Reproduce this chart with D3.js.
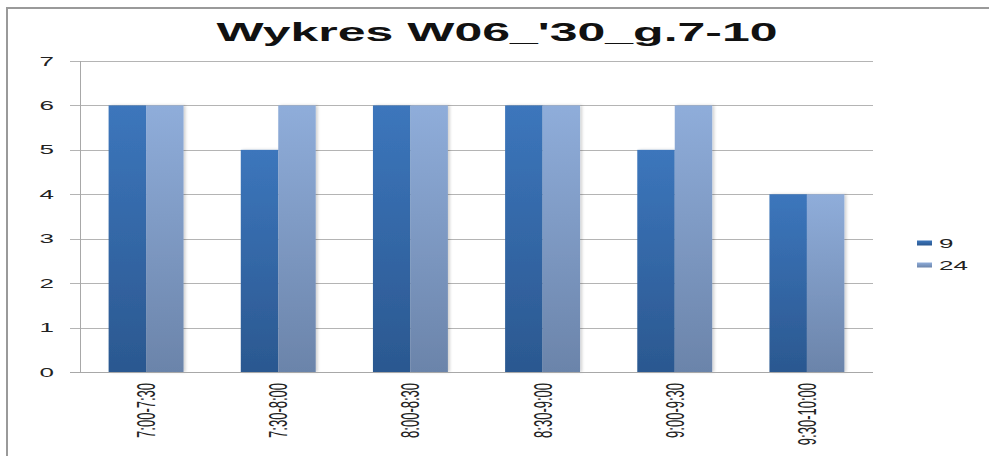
<!DOCTYPE html>
<html>
<head>
<meta charset="utf-8">
<script src="https://cdn.jsdelivr.net/npm/d3@7"></script>
<style>
  body { margin: 0; background: #fff; }
  svg text { font-family: "Liberation Sans", Arial, sans-serif; }
</style>
</head>
<body>
<svg class="chart" width="989" height="456"></svg>
<script>
// chart data
const categories = ["7:00-7:30", "7:30-8:00", "8:00-8:30", "8:30-9:00", "9:00-9:30", "9:30-10:00"];
const seriesNames = ["9", "24"];
const values9 = [6, 5, 6, 6, 5, 4];
const values24 = [6, 6, 6, 6, 6, 4];
const yTicks = [0, 1, 2, 3, 4, 5, 6, 7];
const title = "Wykres W06_'30_g.7-10";

const seriesValues = [values9, values24];
const stretch = 2; // the picture is stretched horizontally

let svg = d3.select("svg.chart"),
    margin = {top: 61, bottom: 84, left: 80, right: 116},
    width = +svg.attr("width"),
    height = +svg.attr("height");

let defs = svg.append("defs");
const grads = [["g9", "#3c76bc", "#2b5890"], ["g24", "#8fadda", "#6b84aa"]];
grads.forEach(g => {
    let lg = defs.append("linearGradient")
        .attr("id", g[0])
        .attr("x1", 0).attr("y1", 0).attr("x2", 0).attr("y2", 1);
    lg.append("stop").attr("offset", "0%").attr("stop-color", g[1]);
    lg.append("stop").attr("offset", "100%").attr("stop-color", g[2]);
});
let shadow = defs.append("filter").attr("id", "shadow")
    .attr("x", "-10%").attr("y", "-10%").attr("width", "130%").attr("height", "120%");
shadow.append("feDropShadow")
    .attr("dx", 2).attr("dy", 0).attr("stdDeviation", 1.5)
    .attr("flood-color", "#000").attr("flood-opacity", 0.18);

// frame
svg.append("line")
    .attr("x1", 7).attr("y1", 8).attr("x2", 7).attr("y2", height)
    .style("stroke", "#9a9a9a").style("stroke-width", 2);
svg.append("line")
    .attr("x1", 6).attr("y1", 8).attr("x2", width).attr("y2", 8)
    .style("stroke", "#9a9a9a").style("stroke-width", 2);

let x0 = d3.scaleBand()
    .domain(categories)
    .range([margin.left, width - margin.right])
    .paddingInner(0.433)
    .paddingOuter(0.2165);

let x1 = d3.scaleBand()
    .domain(seriesNames)
    .range([0, x0.bandwidth()]);

let y = d3.scaleLinear()
    .domain([0, 7])
    .range([height - margin.bottom, margin.top]);

// gridlines
let yAxis = svg.append("g")
    .attr("class", "y-axis")
    .attr("transform", "translate(" + margin.left + ",0)")
    .call(d3.axisLeft(y).tickValues(yTicks)
        .tickSize(-(width - margin.right - margin.left))
        .tickFormat(""));
yAxis.select(".domain").remove();
yAxis.selectAll(".tick line")
    .attr("x1", -10)
    .style("stroke", "#b4b4b4")
    .style("shape-rendering", "crispEdges");

// y tick labels
svg.append("g").selectAll("text")
    .data(yTicks)
    .join("text")
    .attr("transform", d => "translate(54," + (y(d) + 4.5) + ") scale(" + stretch + ",1)")
    .style("text-anchor", "end")
    .style("font-size", "13px")
    .style("fill", "#222")
    .text(d => d);

// bars
let groups = svg.append("g").selectAll("g")
    .data(categories)
    .join("g")
    .attr("transform", d => "translate(" + x0(d) + ",0)");

groups.selectAll("rect")
    .data((d, i) => seriesNames.map((s, j) => ({series: s, idx: j, value: seriesValues[j][i]})))
    .join("rect")
    .attr("x", d => x1(d.series))
    .attr("y", d => y(d.value))
    .attr("width", x1.bandwidth())
    .attr("height", d => y(0) - y(d.value))
    .attr("fill", d => "url(#g" + d.series + ")")
    .attr("filter", "url(#shadow)");

// axis lines
svg.append("line")
    .attr("x1", margin.left).attr("x2", margin.left)
    .attr("y1", y(7)).attr("y2", y(0))
    .style("stroke", "#a8a8a8")
    .style("shape-rendering", "crispEdges");
svg.append("line")
    .attr("x1", margin.left - 10).attr("x2", width - margin.right)
    .attr("y1", y(0)).attr("y2", y(0))
    .style("stroke", "#a8a8a8")
    .style("shape-rendering", "crispEdges");

// x labels, rotated
svg.append("g").selectAll("text")
    .data(categories)
    .join("text")
    .attr("transform", d => "translate(" + (x0(d) + x0.bandwidth() / 2 + 9) + "," + (y(0) + 11) + ") scale(" + stretch + ",1) rotate(-90)")
    .style("text-anchor", "end")
    .style("font-size", "13px")
    .style("fill", "#222")
    .text(d => d);

// title
svg.append("text")
    .attr("transform", "translate(497,41) scale(" + stretch + ",1)")
    .style("text-anchor", "middle")
    .style("font-size", "25px")
    .style("font-weight", "bold")
    .style("fill", "#111")
    .text(title);

// legend
let legend = svg.append("g").selectAll("g")
    .data(seriesNames)
    .join("g")
    .attr("transform", (d, i) => "translate(917," + (243 + i * 22) + ")");
legend.append("rect")
    .attr("x", 0).attr("y", -2.5)
    .attr("width", 15).attr("height", 5)
    .attr("fill", d => "url(#g" + d + ")");
legend.append("text")
    .attr("transform", "translate(22,5) scale(" + stretch + ",1)")
    .style("font-size", "13px")
    .style("fill", "#222")
    .text(d => d);
</script>
</body>
</html>
